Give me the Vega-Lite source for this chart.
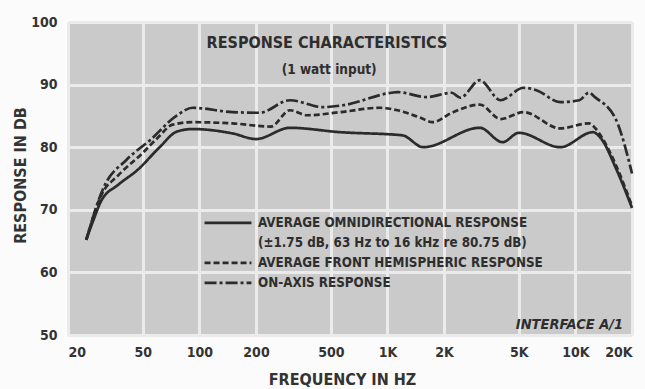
{
  "$schema": "https://vega.github.io/schema/vega-lite/v6.json",
  "width": 564,
  "height": 313,
  "autosize": {"type": "none"},
  "padding": {"left": 68, "top": 22, "right": 13, "bottom": 54},
  "background": "#fbfbfb",
  "config": {
    "font": "DejaVu Sans Condensed",
    "view": {"fill": "#cacaca", "stroke": null},
    "axis": {
      "gridColor": "#ebebeb", "gridWidth": 3, "gridOpacity": 1,
      "domain": false, "ticks": false,
      "labelFont": "DejaVu Sans Condensed", "labelFontWeight": "bold", "labelFontSize": 14, "labelColor": "#333333",
      "titleFont": "DejaVu Sans Condensed", "titleFontWeight": "bold", "titleFontSize": 16, "titleColor": "#333333"
    },
    "legend": {
      "labelFont": "DejaVu Sans Condensed", "labelFontWeight": "bold", "labelFontSize": 13.3, "labelColor": "#2e2e2e"
    }
  },
  "datasets": {
    "curves": [
      {"series": "AVERAGE OMNIDIRECTIONAL RESPONSE", "freq": 25, "db": 65.2},
      {"series": "AVERAGE OMNIDIRECTIONAL RESPONSE", "freq": 27.5, "db": 68.6},
      {"series": "AVERAGE OMNIDIRECTIONAL RESPONSE", "freq": 30, "db": 71.4},
      {"series": "AVERAGE OMNIDIRECTIONAL RESPONSE", "freq": 37, "db": 74.0},
      {"series": "AVERAGE OMNIDIRECTIONAL RESPONSE", "freq": 47, "db": 76.4},
      {"series": "AVERAGE OMNIDIRECTIONAL RESPONSE", "freq": 61, "db": 79.9},
      {"series": "AVERAGE OMNIDIRECTIONAL RESPONSE", "freq": 76, "db": 82.5},
      {"series": "AVERAGE OMNIDIRECTIONAL RESPONSE", "freq": 92, "db": 82.9},
      {"series": "AVERAGE OMNIDIRECTIONAL RESPONSE", "freq": 150, "db": 82.2},
      {"series": "AVERAGE OMNIDIRECTIONAL RESPONSE", "freq": 200, "db": 81.3},
      {"series": "AVERAGE OMNIDIRECTIONAL RESPONSE", "freq": 303, "db": 83.1},
      {"series": "AVERAGE OMNIDIRECTIONAL RESPONSE", "freq": 560, "db": 82.4},
      {"series": "AVERAGE OMNIDIRECTIONAL RESPONSE", "freq": 1200, "db": 81.9},
      {"series": "AVERAGE OMNIDIRECTIONAL RESPONSE", "freq": 1550, "db": 80.0},
      {"series": "AVERAGE OMNIDIRECTIONAL RESPONSE", "freq": 3100, "db": 83.1},
      {"series": "AVERAGE OMNIDIRECTIONAL RESPONSE", "freq": 4100, "db": 80.8},
      {"series": "AVERAGE OMNIDIRECTIONAL RESPONSE", "freq": 5000, "db": 82.3},
      {"series": "AVERAGE OMNIDIRECTIONAL RESPONSE", "freq": 8300, "db": 80.0},
      {"series": "AVERAGE OMNIDIRECTIONAL RESPONSE", "freq": 12400, "db": 82.4},
      {"series": "AVERAGE OMNIDIRECTIONAL RESPONSE", "freq": 13600, "db": 81.5},
      {"series": "AVERAGE OMNIDIRECTIONAL RESPONSE", "freq": 16500, "db": 76.5},
      {"series": "AVERAGE OMNIDIRECTIONAL RESPONSE", "freq": 20000, "db": 70.3},

      {"series": "AVERAGE FRONT HEMISPHERIC RESPONSE", "freq": 25, "db": 65.2},
      {"series": "AVERAGE FRONT HEMISPHERIC RESPONSE", "freq": 30, "db": 72.3},
      {"series": "AVERAGE FRONT HEMISPHERIC RESPONSE", "freq": 37, "db": 75.5},
      {"series": "AVERAGE FRONT HEMISPHERIC RESPONSE", "freq": 50, "db": 79.1},
      {"series": "AVERAGE FRONT HEMISPHERIC RESPONSE", "freq": 60, "db": 81.5},
      {"series": "AVERAGE FRONT HEMISPHERIC RESPONSE", "freq": 72, "db": 83.6},
      {"series": "AVERAGE FRONT HEMISPHERIC RESPONSE", "freq": 92, "db": 84.0},
      {"series": "AVERAGE FRONT HEMISPHERIC RESPONSE", "freq": 150, "db": 83.8},
      {"series": "AVERAGE FRONT HEMISPHERIC RESPONSE", "freq": 240, "db": 83.3},
      {"series": "AVERAGE FRONT HEMISPHERIC RESPONSE", "freq": 303, "db": 85.9},
      {"series": "AVERAGE FRONT HEMISPHERIC RESPONSE", "freq": 375, "db": 85.1},
      {"series": "AVERAGE FRONT HEMISPHERIC RESPONSE", "freq": 560, "db": 85.6},
      {"series": "AVERAGE FRONT HEMISPHERIC RESPONSE", "freq": 913, "db": 86.3},
      {"series": "AVERAGE FRONT HEMISPHERIC RESPONSE", "freq": 1130, "db": 85.9},
      {"series": "AVERAGE FRONT HEMISPHERIC RESPONSE", "freq": 1500, "db": 84.7},
      {"series": "AVERAGE FRONT HEMISPHERIC RESPONSE", "freq": 1740, "db": 84.0},
      {"series": "AVERAGE FRONT HEMISPHERIC RESPONSE", "freq": 2200, "db": 85.5},
      {"series": "AVERAGE FRONT HEMISPHERIC RESPONSE", "freq": 3100, "db": 86.8},
      {"series": "AVERAGE FRONT HEMISPHERIC RESPONSE", "freq": 4000, "db": 84.5},
      {"series": "AVERAGE FRONT HEMISPHERIC RESPONSE", "freq": 5300, "db": 85.6},
      {"series": "AVERAGE FRONT HEMISPHERIC RESPONSE", "freq": 8300, "db": 83.0},
      {"series": "AVERAGE FRONT HEMISPHERIC RESPONSE", "freq": 11800, "db": 83.8},
      {"series": "AVERAGE FRONT HEMISPHERIC RESPONSE", "freq": 12700, "db": 83.1},
      {"series": "AVERAGE FRONT HEMISPHERIC RESPONSE", "freq": 14000, "db": 81.3},
      {"series": "AVERAGE FRONT HEMISPHERIC RESPONSE", "freq": 16500, "db": 77.0},
      {"series": "AVERAGE FRONT HEMISPHERIC RESPONSE", "freq": 20000, "db": 70.6},

      {"series": "ON-AXIS RESPONSE", "freq": 25, "db": 65.2},
      {"series": "ON-AXIS RESPONSE", "freq": 31, "db": 73.6},
      {"series": "ON-AXIS RESPONSE", "freq": 41, "db": 78.0},
      {"series": "ON-AXIS RESPONSE", "freq": 55, "db": 81.2},
      {"series": "ON-AXIS RESPONSE", "freq": 76, "db": 85.1},
      {"series": "ON-AXIS RESPONSE", "freq": 92, "db": 86.3},
      {"series": "ON-AXIS RESPONSE", "freq": 150, "db": 85.6},
      {"series": "ON-AXIS RESPONSE", "freq": 209, "db": 85.5},
      {"series": "ON-AXIS RESPONSE", "freq": 303, "db": 87.5},
      {"series": "ON-AXIS RESPONSE", "freq": 455, "db": 86.4},
      {"series": "ON-AXIS RESPONSE", "freq": 580, "db": 86.7},
      {"series": "ON-AXIS RESPONSE", "freq": 1050, "db": 88.7},
      {"series": "ON-AXIS RESPONSE", "freq": 1130, "db": 88.8},
      {"series": "ON-AXIS RESPONSE", "freq": 1620, "db": 88.0},
      {"series": "ON-AXIS RESPONSE", "freq": 2200, "db": 88.7},
      {"series": "ON-AXIS RESPONSE", "freq": 2440, "db": 87.9},
      {"series": "ON-AXIS RESPONSE", "freq": 3100, "db": 90.7},
      {"series": "ON-AXIS RESPONSE", "freq": 4000, "db": 87.5},
      {"series": "ON-AXIS RESPONSE", "freq": 5300, "db": 89.5},
      {"series": "ON-AXIS RESPONSE", "freq": 6200, "db": 89.1},
      {"series": "ON-AXIS RESPONSE", "freq": 8300, "db": 87.2},
      {"series": "ON-AXIS RESPONSE", "freq": 10500, "db": 87.5},
      {"series": "ON-AXIS RESPONSE", "freq": 11800, "db": 88.7},
      {"series": "ON-AXIS RESPONSE", "freq": 12700, "db": 88.0},
      {"series": "ON-AXIS RESPONSE", "freq": 16500, "db": 84.3},
      {"series": "ON-AXIS RESPONSE", "freq": 20000, "db": 75.8}
    ]
  },
  "layer": [
    {
      "data": {"name": "curves"},
      "mark": {"type": "line", "color": "#2b2b2b", "strokeWidth": 2.7, "interpolate": "monotone"},
      "encoding": {
        "x": {
          "field": "freq", "type": "quantitative",
          "scale": {"type": "log", "domain": [20, 20000], "nice": false},
          "axis": {
            "values": [20, 50, 100, 200, 500, 1000, 2000, 5000, 10000, 20000],
            "labelExpr": "datum.value >= 1000 ? (datum.value / 1000) + 'K' : datum.value",
            "labelPadding": 10, "labelFontSize": 14,
            "title": "FREQUENCY IN HZ", "titlePadding": 12, "titleX": 274
          }
        },
        "y": {
          "field": "db", "type": "quantitative",
          "scale": {"domain": [50, 100], "nice": false, "zero": false},
          "axis": {
            "values": [50, 60, 70, 80, 90, 100],
            "labelPadding": 11,
            "title": "RESPONSE IN DB", "titlePadding": 2, "titleY": 153
          }
        },
        "strokeDash": {
          "field": "series", "type": "nominal",
          "scale": {
            "domain": ["AVERAGE OMNIDIRECTIONAL RESPONSE", "(±1.75 dB, 63 Hz to 16 kHz re 80.75 dB)", "AVERAGE FRONT HEMISPHERIC RESPONSE", "ON-AXIS RESPONSE"],
            "range": [[1, 0], [0, 100], [6, 3], [12, 3, 3, 3]]
          },
          "legend": {
            "title": null,
            "orient": "none",
            "legendX": 135,
            "legendY": 191,
            "symbolType": "stroke",
            "symbolSize": 2200,
            "symbolStrokeWidth": 2.7,
            "symbolStrokeColor": "#2b2b2b",
            "labelOffset": 5,
            "labelLimit": 420,
            "clipHeight": 19.7,
            "rowPadding": 0
          }
        }
      }
    },
    {
      "data": {"values": [{"freq": 477, "db": 96.6, "label": "RESPONSE CHARACTERISTICS"}]},
      "mark": {"type": "text", "fontSize": 16, "fontWeight": "bold", "color": "#2e2e2e", "font": "DejaVu Sans Condensed"},
      "encoding": {
        "x": {"field": "freq", "type": "quantitative"},
        "y": {"field": "db", "type": "quantitative"},
        "text": {"field": "label"}
      }
    },
    {
      "data": {"values": [{"freq": 490, "db": 92.3, "label": "(1 watt input)"}]},
      "mark": {"type": "text", "fontSize": 13.5, "fontWeight": "bold", "color": "#2e2e2e", "font": "DejaVu Sans Condensed"},
      "encoding": {
        "x": {"field": "freq", "type": "quantitative"},
        "y": {"field": "db", "type": "quantitative"},
        "text": {"field": "label"}
      }
    },
    {
      "data": {"values": [{"freq": 9300, "db": 51.6, "label": "INTERFACE A/1"}]},
      "mark": {"type": "text", "fontSize": 14.5, "fontWeight": "bold", "fontStyle": "italic", "color": "#2e2e2e", "font": "DejaVu Sans Condensed"},
      "encoding": {
        "x": {"field": "freq", "type": "quantitative"},
        "y": {"field": "db", "type": "quantitative"},
        "text": {"field": "label"}
      }
    }
  ]
}
